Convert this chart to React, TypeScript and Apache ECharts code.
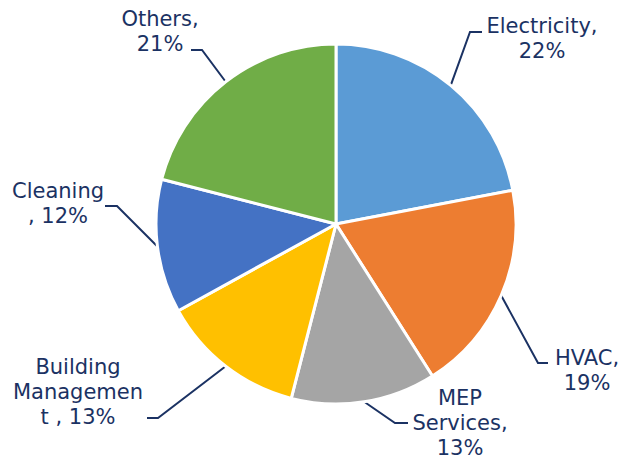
import React, { useEffect, useRef } from "react";
import * as echarts from "echarts";

const categories = ["Electricity", "HVAC", "MEP Services", "Building Managemen t ", "Cleaning ", "Others"];
const labelTexts = ["Electricity,\n22%", "HVAC,\n19%", "MEP\nServices,\n13%", "Building\nManagemen\nt , 13%", "Cleaning\n, 12%", "Others,\n21%"];
const values = [22, 19, 13, 13, 12, 21];
const colors = ["#5B9BD5", "#ED7D31", "#A5A5A5", "#FFC000", "#4472C4", "#70AD47"];

// label placement: [textX, textY, bendX, bendY, endX, endY]
const labelPlacement = [
  [542, 38, 470, 32, 482, 32],
  [587, 370, 538, 363, 548, 363],
  [460, 423, 395, 423, 408, 423],
  [78, 392, 158, 418, 147, 418],
  [58, 203, 117, 206, 105, 206],
  [160, 31, 202, 50, 191, 50],
];

const TEXT = "#1B3263";

export default function App() {
  const ref = useRef<HTMLDivElement>(null);
  useEffect(() => {
    if (!ref.current) return;
    const chart = echarts.init(ref.current, undefined, { renderer: "svg" });
    chart.setOption({
      animation: false,
      backgroundColor: "#ffffff",
      series: [
        {
          type: "pie",
          center: [336, 224],
          radius: 180,
          startAngle: 90,
          clockwise: true,
          data: categories.map((c, i) => ({
            name: c,
            value: values[i],
            itemStyle: { color: colors[i] },
            label: { formatter: labelTexts[i] },
          })),
          itemStyle: { borderColor: "#ffffff", borderWidth: 3 },
          label: {
            show: true,
            position: "outside",
            color: TEXT,
            fontFamily: "DejaVu Sans",
            fontSize: 21,
            lineHeight: 25,
            align: "center",
          },
          labelLine: {
            show: true,
            length: 10,
            length2: 10,
            smooth: false,
            lineStyle: { color: TEXT, width: 2 },
          },
          labelLayout: (params: any) => {
            const i = params.dataIndex;
            const p = labelPlacement[i];
            const start = params.labelLinePoints ? params.labelLinePoints[0] : [p[2], p[3]];
            return {
              x: p[0],
              y: p[1],
              align: "center",
              verticalAlign: "middle",
              labelLinePoints: [start, [p[2], p[3]], [p[4], p[5]]],
            };
          },
          emphasis: { disabled: true },
        },
      ],
    });
    return () => chart.dispose();
  }, []);
  return (
    <div
      ref={ref}
      style={{ position: "fixed", left: 0, top: 0, width: 625, height: 460 }}
    />
  );
}
